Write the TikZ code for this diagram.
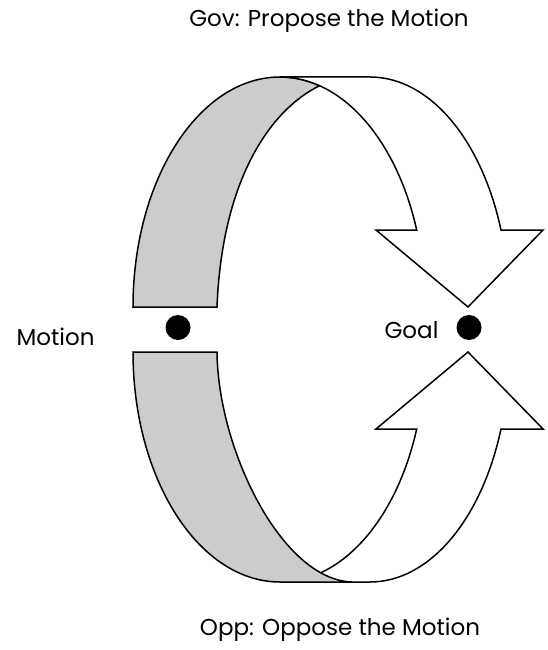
\documentclass[tikz,border=0pt]{standalone}
\usepackage{fontspec}
\setmainfont{Poppins}
\begin{document}
\begin{tikzpicture}[x=1pt,y=-1pt,
  band/.style={draw=black,line width=1.5pt,line join=miter,fill=black!20},
  arrowbody/.style={draw=black,line width=1.5pt,line join=miter,fill=white},
  dot/.style={circle,fill=black,inner sep=0pt,minimum size=25pt},
  lbl/.style={font=\fontsize{23}{27}\selectfont,inner sep=0pt,anchor=base}]
\useasboundingbox (0,0) rectangle (548,650);
% upper ribbon: grey back side, white front arrow
\path[band] (133,307) .. controls (133,180) and (198.8,77) .. (280,77)
  .. controls (293.6,77) and (306.9,80) .. (319.6,85.7)
  .. controls (270,110) and (222,180) .. (217,307) -- cycle;
\path[arrowbody] (280,77) -- (370,77) .. controls (428.8,77) and (481.3,138.3) .. (501,230)
  -- (543,230) -- (468,307) -- (376,230) -- (416.7,230)
  .. controls (396.1,138.3) and (341.4,77) .. (280,77) -- cycle;
% lower ribbon: white front arrow, grey side in front of it
\path[arrowbody] (280,582) -- (370,582) .. controls (428.8,582) and (481.3,520.7) .. (501,429)
  -- (543,429) -- (468,352) -- (376,429) -- (416.7,429)
  .. controls (396.1,520.7) and (341.4,582) .. (280,582) -- cycle;
\path[band] (133,352) .. controls (133,479) and (198.8,582) .. (280,582) -- (352,582)
  .. controls (282,580) and (218,450) .. (217,352) -- cycle;
% dots
\node[dot] (motiondot) at (178,327.5) {};
\node[dot] (goaldot) at (469,327.5) {};
% labels
\node[lbl] (gov) at (329,27) {Gov: Propose the Motion};
\node[lbl] (opp) at (340,635) {Opp: Oppose the Motion};
\node[lbl] (motion) at (55.5,345) {Motion};
\node[lbl] (goal) at (411.5,338) {Goal};
\end{tikzpicture}
\end{document}
